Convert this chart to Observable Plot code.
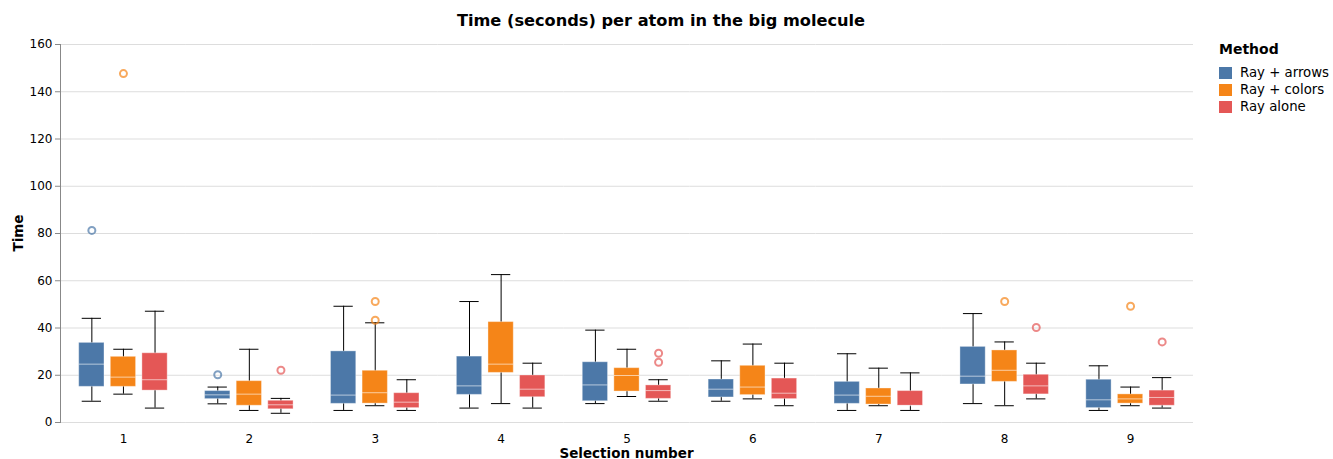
<!DOCTYPE html>
<html>
<head>
<meta charset="utf-8">
<script src="https://cdn.jsdelivr.net/npm/d3@7"></script>
<script src="https://cdn.jsdelivr.net/npm/@observablehq/plot@0.6"></script>
<style>
  body { margin: 0; background: #fff; font-family: "DejaVu Sans", Verdana, sans-serif; }
  #wrap { position: relative; width: 1333px; height: 459px; }
  #wrap svg { position: absolute; left: 0; top: 0; }
  .title { position: absolute; left: 0; width: 1322px; top: 12px; text-align: center; font-weight: bold; font-size: 16.2px; line-height: 18px; color: #000; }
  .xtitle { position: absolute; left: 60px; width: 1133px; top: 446px; text-align: center; font-weight: bold; font-size: 13.5px; line-height: 14px; }
  .ytitle { position: absolute; left: 18px; top: 233px; transform: translate(-50%, -50%) rotate(-90deg); font-weight: bold; font-size: 13.5px; line-height: 15px; white-space: nowrap; }
  .legend { position: absolute; left: 1219px; top: 40px; }
  .legend .lt { font-weight: bold; font-size: 14px; line-height: 18px; margin-bottom: 6px; }
  .legend .row { display: flex; align-items: center; height: 17px; font-size: 13.3px; }
  .legend .sw { width: 13px; height: 12px; margin-right: 8px; }
</style>
</head>
<body>
<div id="wrap">
  <div class="title">Time (seconds) per atom in the big molecule</div>
  <div class="xtitle">Selection number</div>
  <div class="ytitle">Time</div>
  <div class="legend" id="legend"></div>
</div>
<script>
// ---- data ----
const selections = ["1", "2", "3", "4", "5", "6", "7", "8", "9"];
const methods = ["Ray + arrows", "Ray + colors", "Ray alone"];
const methodColors = ["#4c78a8", "#f58518", "#e45756"];
const yTicks = [0, 20, 40, 60, 80, 100, 120, 140, 160];

// [min (lower whisker), q1, median, q3, max (upper whisker)] per selection
const rayArrows = [
  [9.0, 15.1, 24.7, 33.7, 44.1],
  [7.9, 9.9, 11.7, 13.3, 15.0],
  [5.1, 7.9, 11.6, 30.1, 49.2],
  [6.1, 11.7, 15.5, 27.9, 51.2],
  [8.0, 9.0, 15.9, 25.5, 39.1],
  [9.0, 10.6, 14.1, 18.2, 26.1],
  [5.1, 7.9, 11.6, 17.2, 29.1],
  [8.0, 16.1, 19.6, 32.0, 46.1],
  [5.1, 6.1, 9.6, 18.1, 24.0]
];
const rayColors = [
  [12.0, 15.1, 19.2, 27.8, 31.0],
  [5.1, 7.1, 12.0, 17.5, 31.0],
  [7.1, 8.0, 12.6, 21.9, 42.2],
  [8.0, 21.0, 24.7, 42.5, 62.6],
  [11.0, 13.1, 19.9, 23.0, 31.0],
  [10.0, 11.6, 15.0, 24.0, 33.2],
  [7.1, 7.6, 11.1, 14.4, 23.0],
  [7.1, 17.2, 22.1, 30.5, 34.1],
  [7.1, 8.0, 10.0, 11.9, 15.0]
];
const rayAlone = [
  [6.1, 13.5, 18.1, 29.3, 47.1],
  [3.9, 5.6, 7.5, 9.2, 10.2],
  [5.1, 6.1, 8.6, 12.4, 18.1],
  [6.1, 10.7, 14.1, 19.9, 25.1],
  [9.0, 10.0, 13.5, 15.7, 18.1],
  [7.1, 9.9, 12.4, 18.6, 25.1],
  [5.1, 7.1, 7.1, 13.3, 21.0],
  [10.0, 11.9, 15.5, 20.2, 25.1],
  [6.1, 7.1, 10.6, 13.5, 19.0]
];
// outliers: [selection, value]
const outliersArrows = [["1", 81.3], ["2", 20.2]];
const outliersColors = [["1", 147.7], ["3", 51.2], ["3", 43.3], ["8", 51.2], ["9", 49.2]];
const outliersAlone = [["2", 22.1], ["5", 29.3], ["5", 25.5], ["8", 40.2], ["9", 34.1]];

// ---- build tables ----
const statsByMethod = [rayArrows, rayColors, rayAlone];
const outliersByMethod = [outliersArrows, outliersColors, outliersAlone];
const boxes = [];
statsByMethod.forEach((rows, i) => rows.forEach((r, j) => boxes.push({
  sel: selections[j], method: methods[i], min: r[0], q1: r[1], med: r[2], q3: r[3], max: r[4]
})));
const outliers = [];
outliersByMethod.forEach((rows, i) => rows.forEach(([s, v]) => outliers.push({sel: s, method: methods[i], value: v})));

const chart = Plot.plot({
  width: 1333,
  height: 459,
  marginLeft: 60,
  marginRight: 140,
  marginTop: 44,
  marginBottom: 37,
  style: {fontFamily: "DejaVu Sans, Verdana, sans-serif", fontSize: "12px", background: "white", color: "#000"},
  fx: {domain: selections, padding: 0, round: false, axis: null},
  x: {domain: methods, paddingInner: 0.2, paddingOuter: 0.592, round: false, axis: null},
  y: {domain: [0, 160], axis: null},
  color: {domain: methods, range: methodColors},
  marks: [
    Plot.gridY(yTicks, {stroke: "#ddd", strokeOpacity: 1}),
    Plot.frame({anchor: "left", facetAnchor: "left", stroke: "#888"}),
    Plot.axisY({ticks: yTicks, tickSize: 5, tickPadding: 3, stroke: "#888", fontSize: 12, label: null, fill: "#000"}),
    Plot.axisFx({anchor: "bottom", tickSize: 0, tickPadding: 12, fontSize: 12, label: null}),
    Plot.ruleX(boxes, {fx: "sel", x: "method", y1: "min", y2: "max", stroke: "#000", strokeWidth: 1}),
    Plot.tickY(boxes, {fx: "sel", x: "method", y: "min", stroke: "#000", insetLeft: 3, insetRight: 3}),
    Plot.tickY(boxes, {fx: "sel", x: "method", y: "max", stroke: "#000", insetLeft: 3, insetRight: 3}),
    Plot.barY(boxes, {fx: "sel", x: "method", y1: "q1", y2: "q3", fill: "method", stroke: "white", strokeOpacity: 0.35, strokeWidth: 1}),
    Plot.tickY(boxes, {fx: "sel", x: "method", y: "med", stroke: "white", strokeOpacity: 0.6, strokeWidth: 1}),
    Plot.dot(outliers, {fx: "sel", x: "method", y: "value", stroke: "method", r: 3.5, strokeWidth: 2, strokeOpacity: 0.7, fill: "none"})
  ]
});
document.getElementById("wrap").prepend(chart);

// legend
const lg = document.getElementById("legend");
lg.innerHTML = '<div class="lt">Method</div>' + methods.map((m, i) =>
  `<div class="row"><div class="sw" style="background:${methodColors[i]}"></div><span>${m}</span></div>`).join("");
</script>
</body>
</html>
